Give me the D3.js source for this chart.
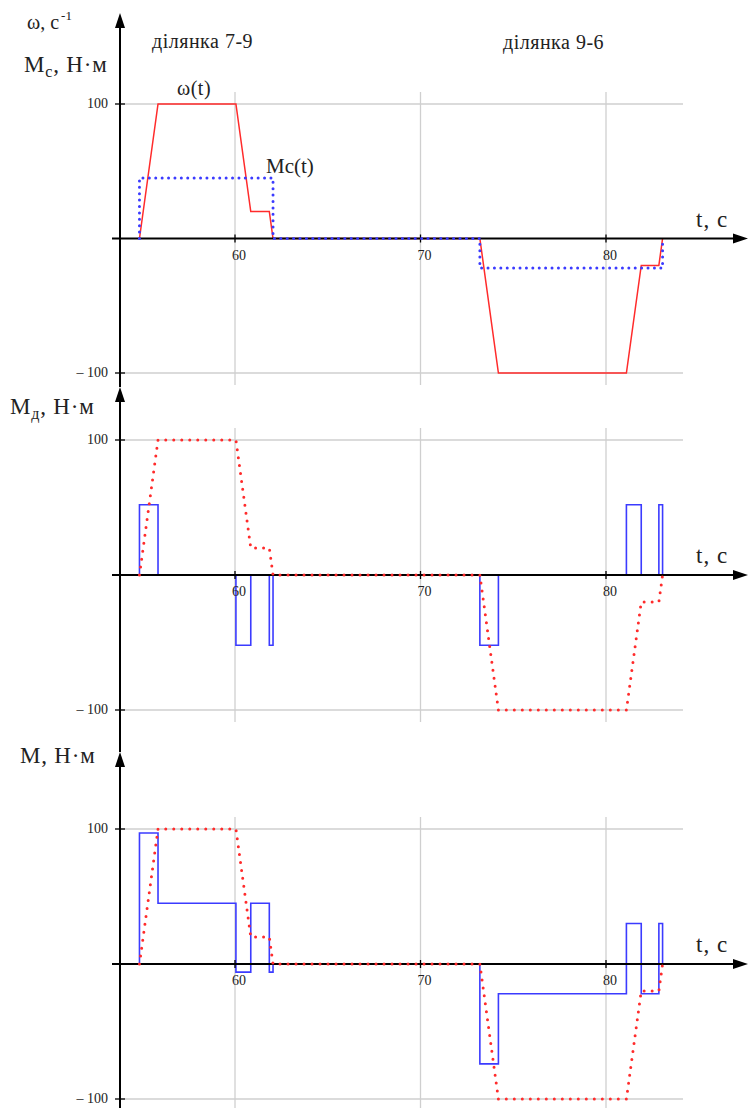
<!DOCTYPE html>
<html lang="uk">
<head>
<meta charset="UTF-8">
<title>ω(t), Mc(t), Mд(t), M(t)</title>
<script src="https://cdn.jsdelivr.net/npm/d3@7"></script>
<style>
  body { margin: 0; background: #fff; }
  svg text { font-family: "Liberation Serif", "DejaVu Serif", "Times New Roman", serif; fill: #222; }
</style>
</head>
<body>
<div id="chart"></div>
<script>
// time breakpoints, s
const tBreaks = [54.85, 55.85, 60.05, 60.85, 61.85, 62.05, 73.2, 74.2, 81.1, 81.9, 82.85, 83.05];
// speed ω(t), piecewise linear through the breakpoints
const omega = [0, 100, 100, 20, 20, 0, 0, -100, -100, -20, -20, 0];
// static torque Mc(t), held from each time to the next
const mcT = [54.85, 54.85, 62.05, 73.2, 83.05];
const mcV = [0, 45, 0, -22, 0];
// dynamic torque Mд(t), held from each breakpoint to the next
const mdV = [52, 0, -52, 0, -52, 0, -52, 0, 52, 0, 52, 0];
// motor torque M(t) = Mc + Mд
const mV = [97, 45, -6, 45, -6, 0, -74, -22, 30, -22, 30, 0];

const xTicks = [60, 70, 80];
const yTicks = [100, -100];

const W = 748, H = 1108;
const red = "#ff2b2b", blue = "#3b3bff";
const serif = "'Liberation Serif', 'DejaVu Serif', 'Times New Roman', serif";

const svg = d3.select("#chart").append("svg")
  .attr("width", W).attr("height", H)
  .attr("font-family", serif);

// shared time scale
const x = d3.scaleLinear().domain([60, 80]).range([235, 606]);
const axisX = 120;          // y axis position
const gridRight = 683;

// panel layout
const panels = [
  { range: [373, 104], top: 13, bottom: 387 },
  { range: [710, 440], top: 387, bottom: 752 },
  { range: [1099, 829], top: 752, bottom: 1108 }
];
panels.forEach(p => p.y = d3.scaleLinear().domain([-100, 100]).range(p.range));

const lineW = y => d3.line().x(d => x(d[0])).y(d => y(d[1]));
const stepPts = vals => [[tBreaks[0], 0]].concat(tBreaks.map((t, i) => [t, vals[i]]));
const omegaPts = tBreaks.map((t, i) => [t, omega[i]]);
const mcPts = mcT.map((t, i) => [t, mcV[i]]);

function txt(g, xp, yp, size, s, ls) {
  return g.append("text").attr("x", xp).attr("y", yp)
    .attr("font-family", serif).attr("font-size", size)
    .attr("letter-spacing", ls || 0).text(s || null);
}

function drawFrame(g, p) {
  const y = p.y;
  // grid
  g.selectAll(".vg").data(xTicks).join("line")
    .attr("x1", d => x(d)).attr("x2", d => x(d))
    .attr("y1", y(100) - 12).attr("y2", y(-100) + 12)
    .attr("stroke", "#cfcfcf").attr("stroke-width", 1.3);
  g.selectAll(".hg").data(yTicks).join("line")
    .attr("x1", axisX).attr("x2", gridRight)
    .attr("y1", d => y(d)).attr("y2", d => y(d))
    .attr("stroke", "#cfcfcf").attr("stroke-width", 1.3);
}

function drawAxes(g, p) {
  const y = p.y, y0 = y(0);
  g.append("line").attr("x1", 112).attr("x2", W - 10)
    .attr("y1", y0).attr("y2", y0).attr("stroke", "#000").attr("stroke-width", 2);
  g.append("path").attr("d", `M${W},${y0} L${W - 15},${y0 - 5} L${W - 15},${y0 + 5} Z`);
  g.append("line").attr("x1", axisX).attr("x2", axisX)
    .attr("y1", p.top + 10).attr("y2", p.bottom).attr("stroke", "#000").attr("stroke-width", 2);
  g.append("path").attr("d", `M${axisX},${p.top} L${axisX - 5},${p.top + 15} L${axisX + 5},${p.top + 15} Z`);
  // x ticks
  g.selectAll(".xt").data(xTicks).join("line")
    .attr("x1", d => x(d)).attr("x2", d => x(d))
    .attr("y1", y0 - 4).attr("y2", y0 + 4).attr("stroke", "#000").attr("stroke-width", 1.3);
  g.selectAll(".xl").data(xTicks).join("text")
    .attr("x", d => x(d) - 3).attr("y", y0 + 21)
    .attr("font-family", serif).attr("font-size", 14).text(d => d);
  // y ticks
  g.selectAll(".yt").data(yTicks).join("line")
    .attr("x1", axisX - 5).attr("x2", axisX + 5)
    .attr("y1", d => y(d)).attr("y2", d => y(d)).attr("stroke", "#000").attr("stroke-width", 1.3);
  g.selectAll(".yl").data(yTicks).join("text")
    .attr("x", axisX - 12).attr("y", d => y(d) + 4)
    .attr("text-anchor", "end").attr("font-family", serif).attr("font-size", 14)
    .text(d => d < 0 ? "\u2013 " + Math.abs(d) : d);
  txt(g, 696, y0 - 12, 23, "t, с", 1);
}

function dotted(g, pts, y, color, gap) {
  g.append("path").datum(pts).attr("d", lineW(y))
    .attr("fill", "none").attr("stroke", color).attr("stroke-width", 3)
    .attr("stroke-linecap", "round").attr("stroke-dasharray", `0 ${gap}`);
}

// ---------- panel 1: ω(t), Mc(t)
{
  const p = panels[0], g = svg.append("g");
  drawFrame(g, p);
  g.append("path").datum(omegaPts).attr("d", lineW(p.y))
    .attr("fill", "none").attr("stroke", red).attr("stroke-width", 1.5);
  drawAxes(g, p);
  g.append("path").datum(mcPts).attr("d", lineW(p.y).curve(d3.curveStepAfter))
    .attr("fill", "none").attr("stroke", blue).attr("stroke-width", 3)
    .attr("stroke-linecap", "round").attr("stroke-dasharray", "0 6.4");

  const t1 = txt(g, 27, 29, 20);
  t1.append("tspan").text("ω, с");
  t1.append("tspan").attr("dy", -9).attr("dx", 2).attr("font-size", 13).text("-1");
  const t2 = txt(g, 24, 72, 23, null, 0.8);
  t2.append("tspan").text("M");
  t2.append("tspan").attr("dy", 5).attr("font-size", 16).text("с");
  t2.append("tspan").attr("dy", -5).text(", Н·м");
  txt(g, 152, 48, 20, "ділянка 7-9", 0.5);
  txt(g, 503, 49, 20, "ділянка 9-6", 0.5);
  txt(g, 177, 95, 20, "ω(t)", 0.5);
  txt(g, 266, 173, 21, "Mc(t)");
}

// ---------- panel 2: Mд(t)
{
  const p = panels[1], g = svg.append("g");
  drawFrame(g, p);
  g.append("path").datum(stepPts(mdV)).attr("d", lineW(p.y).curve(d3.curveStepAfter))
    .attr("fill", "none").attr("stroke", blue).attr("stroke-width", 1.6);
  drawAxes(g, p);
  dotted(g, omegaPts, p.y, red, 8);
  const t = txt(g, 10, 414, 23, null, 0.8);
  t.append("tspan").text("M");
  t.append("tspan").attr("dy", 5).attr("font-size", 16).text("д");
  t.append("tspan").attr("dy", -5).text(", Н·м");
}

// ---------- panel 3: M(t)
{
  const p = panels[2], g = svg.append("g");
  drawFrame(g, p);
  g.append("path").datum(stepPts(mV)).attr("d", lineW(p.y).curve(d3.curveStepAfter))
    .attr("fill", "none").attr("stroke", blue).attr("stroke-width", 1.6);
  drawAxes(g, p);
  dotted(g, omegaPts, p.y, red, 8);
  txt(g, 20, 763, 23, "M, Н·м", 0.8);
}
</script>
</body>
</html>
